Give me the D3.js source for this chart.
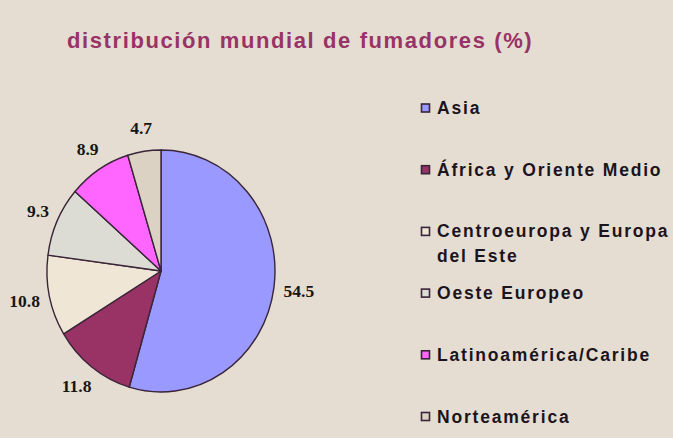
<!DOCTYPE html>
<html>
<head>
<meta charset="utf-8">
<script src="https://cdn.jsdelivr.net/npm/d3@7"></script>
<style>
  html, body { margin: 0; padding: 0; background: #e5ddd2; }
  svg { display: block; }
</style>
</head>
<body>
<svg id="chart"></svg>
<script>
const title = "distribución mundial de fumadores (%)";
const regions = ["Asia", "África y Oriente Medio", "Centroeuropa y Europa del Este", "Oeste Europeo", "Latinoamérica/Caribe", "Norteamérica"];
const legendLines = [["Asia"], ["África y Oriente Medio"], ["Centroeuropa y Europa", "del Este"], ["Oeste Europeo"], ["Latinoamérica/Caribe"], ["Norteamérica"]];
const shares = [54.5, 11.8, 10.8, 9.3, 8.9, 4.7];
const colors = ["#9999ff", "#993366", "#efe6d6", "#dcdcd4", "#ff66ff", "#dcd2c4"];

const width = 673;
const height = 438;
const cx = 161, cy = 271;
const rx = 114, ry = 121;

const svg = d3.select("#chart")
	.attr("width", width)
	.attr("height", height);

svg.append("rect")
	.attr("width", width)
	.attr("height", height)
	.attr("fill", "#e5ddd2");

// title
svg.append("text")
	.attr("x", 67)
	.attr("y", 48)
	.attr("fill", "#993366")
	.style("font-family", "'Liberation Sans', Arial, sans-serif")
	.style("font-size", "22px")
	.style("font-weight", "bold")
	.style("letter-spacing", "1.6px")
	.text(title);

const pie = d3.pie().sort(null).value(d => d);
const arcs = pie(shares);
const arc = d3.arc().innerRadius(0).outerRadius(rx);

// pie drawn as a circle and squashed into the slight ellipse of the original
const g = svg.append("g")
	.attr("transform", `translate(${cx},${cy}) scale(1,${ry / rx})`);

g.selectAll("path")
	.data(arcs)
	.enter().append("path")
	.attr("d", arc)
	.attr("fill", (d, i) => colors[i])
	.attr("stroke", "#3a2438")
	.attr("stroke-width", 1.4)
	.attr("stroke-linejoin", "round")
	.attr("vector-effect", "non-scaling-stroke");

// value labels outside the slices
const labels = svg.append("g")
	.style("font-family", "'Liberation Serif', 'Times New Roman', serif")
	.style("font-size", "17.5px")
	.style("font-weight", "bold")
	.attr("fill", "#161616");

arcs.forEach((d, i) => {
	const a = (d.startAngle + d.endAngle) / 2;
	const s = Math.sin(a), c = Math.cos(a);
	const px = cx + s * rx;
	const py = cy - c * ry;
	const t = labels.append("text")
		.attr("text-anchor", "middle")
		.text(d3.format(".1f")(d.data));
	const w = t.node().getComputedTextLength();
	const h = 12;
	t.attr("x", px + s * (w / 2 + 10))
		.attr("y", py - c * (h / 2 + 18) + h / 2);
});

// legend
const step = 61.7;
const legend = svg.append("g")
	.attr("transform", "translate(421,108)");

const rows = legend.selectAll("g")
	.data(regions)
	.enter().append("g")
	.attr("transform", (d, i) => `translate(0,${i * step})`);

rows.append("rect")
	.attr("x", 0.5)
	.attr("y", -4)
	.attr("width", 8)
	.attr("height", 8)
	.attr("fill", (d, i) => colors[i])
	.attr("stroke", "#3a2438")
	.attr("stroke-width", 1.6);

rows.each(function(d, i) {
	const row = d3.select(this);
	legendLines[i].forEach((line, j) => {
		row.append("text")
			.attr("x", 16)
			.attr("y", 6 + j * 25)
			.attr("fill", "#1c141c")
			.style("font-family", "'Liberation Sans', Arial, sans-serif")
			.style("font-size", "17.5px")
			.style("font-weight", "bold")
			.style("letter-spacing", "1.8px")
			.text(line);
	});
});
</script>
</body>
</html>
